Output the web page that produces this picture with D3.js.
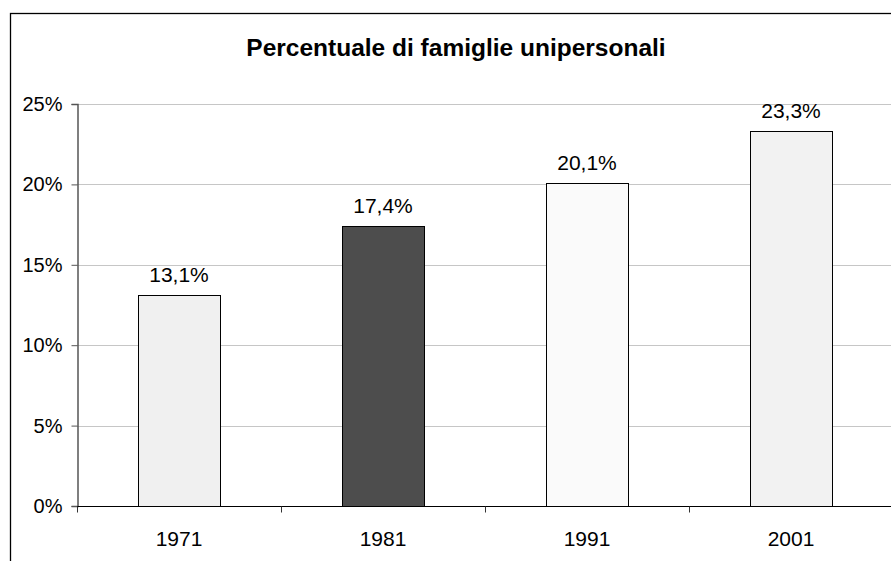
<!DOCTYPE html>
<html>
<head>
<meta charset="utf-8">
<script src="https://cdn.jsdelivr.net/npm/d3@7"></script>
<style>
  body { margin: 0; background: #fff; }
  svg { display: block; font-family: "Liberation Sans", Arial, sans-serif; }
</style>
</head>
<body>
<svg width="891" height="561"></svg>
<script>
// chart data
var years = ["1971", "1981", "1991", "2001"];
var values = [13.1, 17.4, 20.1, 23.3];
var barColors = ["#f0f0f0", "#4d4d4d", "#fafafa", "#f2f2f2"];
var yTicks = [0, 5, 10, 15, 20, 25];

var svg = d3.select("svg");

// plot area
var margin = { top: 104, left: 77 };
var plotW = 816;   // runs past the right edge, like the original
var plotH = 402;

// outer frame (cut off at right and bottom)
svg.append("rect")
  .attr("x", 10.5).attr("y", 13.5)
  .attr("width", 900).attr("height", 600)
  .attr("fill", "none")
  .attr("stroke", "#000")
  .attr("stroke-width", 1.3);

svg.append("text")
  .attr("x", 456).attr("y", 56)
  .attr("text-anchor", "middle")
  .attr("font-size", "24.5px")
  .attr("font-weight", "bold")
  .text("Percentuale di famiglie unipersonali");

var x = d3.scaleBand()
  .domain(years)
  .range([margin.left, margin.left + plotW])
  .paddingInner(0.6)
  .paddingOuter(0.3);

var y = d3.scaleLinear()
  .domain([0, 25])
  .range([margin.top + plotH, margin.top]);

var g = svg.append("g");

// gridlines
g.selectAll("line.grid")
  .data(yTicks.slice(1))
  .enter()
  .append("line")
  .attr("class", "grid")
  .attr("x1", margin.left).attr("x2", margin.left + plotW)
  .attr("y1", function(d) { return Math.round(y(d)) + 0.5; })
  .attr("y2", function(d) { return Math.round(y(d)) + 0.5; })
  .attr("stroke", "#c6c6c6")
  .attr("stroke-width", 1);

// bars
g.selectAll("rect.bar")
  .data(values)
  .enter()
  .append("rect")
  .attr("class", "bar")
  .attr("x", function(d, i) { return Math.round(x(years[i])) + 0.5; })
  .attr("y", function(d) { return Math.round(y(d)) + 0.5; })
  .attr("width", Math.round(x.bandwidth()))
  .attr("height", function(d) { return Math.round(y(0)) - Math.round(y(d)); })
  .attr("fill", function(d, i) { return barColors[i]; })
  .attr("stroke", "#000")
  .attr("stroke-width", 1);

// value labels
g.selectAll("text.val")
  .data(values)
  .enter()
  .append("text")
  .attr("class", "val")
  .attr("x", function(d, i) { return x(years[i]) + x.bandwidth() / 2; })
  .attr("y", function(d) { return y(d) - 13; })
  .attr("text-anchor", "middle")
  .attr("font-size", "21px")
  .attr("fill", "#000")
  .text(function(d) { return d.toFixed(1).replace(".", ",") + "%"; });

// y axis
var yAxis = d3.axisLeft(y)
  .tickValues(yTicks)
  .tickSize(6)
  .tickPadding(9)
  .tickFormat(function(d) { return d + "%"; });

var ya = svg.append("g")
  .attr("transform", "translate(" + (margin.left + 0.5) + ",0)")
  .call(yAxis);
ya.select(".domain").attr("stroke", "#555").attr("stroke-width", 1.5);
ya.selectAll(".tick line").attr("stroke", "#555");
ya.selectAll(".tick text")
  .attr("font-size", "20px")
  .attr("fill", "#000")
  .attr("font-family", "'Liberation Sans', Arial, sans-serif");

// x axis: ticks sit between categories
var xa = svg.append("g")
  .attr("transform", "translate(0," + (y(0) + 0.5) + ")");
xa.append("line")
  .attr("x1", margin.left).attr("x2", margin.left + plotW)
  .attr("stroke", "#000").attr("stroke-width", 1.2);
var bounds = d3.range(years.length + 1).map(function(i) { return margin.left + i * plotW / years.length; });
xa.selectAll("line.tk")
  .data(bounds)
  .enter()
  .append("line")
  .attr("class", "tk")
  .attr("x1", function(d) { return Math.round(d) + 0.5; })
  .attr("x2", function(d) { return Math.round(d) + 0.5; })
  .attr("y1", 0).attr("y2", 6)
  .attr("stroke", "#333");
xa.selectAll("text")
  .data(years)
  .enter()
  .append("text")
  .attr("x", function(d) { return x(d) + x.bandwidth() / 2; })
  .attr("y", 39)
  .attr("text-anchor", "middle")
  .attr("font-size", "21px")
  .attr("fill", "#000")
  .text(function(d) { return d; });
</script>
</body>
</html>
